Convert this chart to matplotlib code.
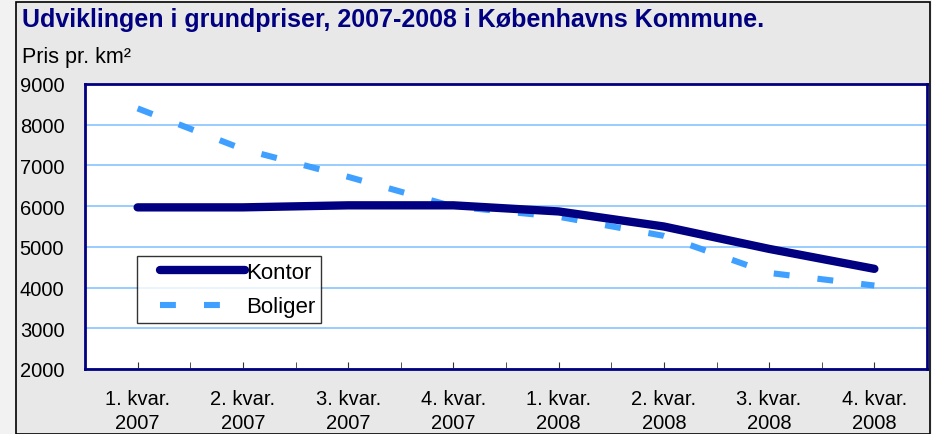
import matplotlib
matplotlib.use("Agg")
import matplotlib.pyplot as plt
from matplotlib.patches import Rectangle
from matplotlib.ticker import MultipleLocator

plt.rcParams['font.family'] = ['Liberation Sans', 'DejaVu Sans']

kvartaler = ["1. kvar.\n2007", "2. kvar.\n2007", "3. kvar.\n2007", "4. kvar.\n2007",
             "1. kvar.\n2008", "2. kvar.\n2008", "3. kvar.\n2008", "4. kvar.\n2008"]
kontor = [5970, 5970, 6020, 6020, 5870, 5500, 4950, 4460]
boliger = [8400, 7400, 6720, 5990, 5740, 5270, 4360, 4050]

W, H = 932, 435
fig = plt.figure(figsize=(W / 100, H / 100), dpi=100, facecolor="#F2F2F2")

# grå ramme om hele diagrammet
bg = Rectangle((16 / W, 0), (930 - 16) / W, (H - 3) / H, transform=fig.transFigure,
               facecolor="#E8E8E8", edgecolor="black", linewidth=1.2, zorder=-5)
fig.add_artist(bg)

fig.text(22 / W, 1 - 20 / H, "Udviklingen i grundpriser, 2007-2008 i Københavns Kommune.",
         fontsize=18, fontweight="bold", color="#000080", va="center", ha="left")
fig.text(22 / W, 1 - 57 / H, "Pris pr. km²", fontsize=15.5, va="center", ha="left")

ax = fig.add_axes([85 / W, (H - 370) / H, (927 - 85) / W, 285 / H])
ax.set_facecolor("white")
x = range(len(kvartaler))

ax.plot(x, kontor, color="#000080", linewidth=6, solid_capstyle="round",
        label="Kontor", zorder=3)
ax.plot(x, boliger, color="#3FA0FF", linewidth=4.4, dashes=(2.6, 4.6),
        dash_capstyle="butt", label="Boliger", zorder=2)

ax.set_xlim(-0.5, 7.5)
ax.set_ylim(2000, 9000)
ax.yaxis.set_major_locator(MultipleLocator(1000))
ax.grid(axis="y", color="#99CCFF", linewidth=1.4)
ax.set_axisbelow(True)

ax.set_xticks(list(x))
ax.set_xticklabels(kvartaler, fontsize=14.5, linespacing=1.35)
ax.xaxis.set_minor_locator(MultipleLocator(0.5))
ax.tick_params(axis="x", which="both", direction="in", length=5, color="#333333",
               pad=14.5)
ax.tick_params(axis="y", length=0, labelsize=14.5)
for lab in ax.get_yticklabels():
    lab.set_horizontalalignment("left")
ax.yaxis.set_tick_params(pad=47)

for s in ax.spines.values():
    s.set_color("#000080")
    s.set_linewidth(2)

leg = ax.legend(loc="upper left", bbox_to_anchor=((137 - 85) / 842, (370 - 257) / 285),
                fontsize=16, frameon=True, fancybox=False, shadow=False,
                handlelength=4.6, handletextpad=0.05, borderpad=0.25, labelspacing=0.62,
                borderaxespad=0)
leg.get_frame().set_edgecolor("black")
leg.get_frame().set_linewidth(1)
# linjerne i forklaringen starter lidt inde i boksen
for ln in leg.get_lines():
    xd = list(ln.get_xdata())
    xd[0] = xd[0] + 12.6
    ln.set_xdata(xd)

fig.savefig("out.png", dpi=100, facecolor=fig.get_facecolor())
